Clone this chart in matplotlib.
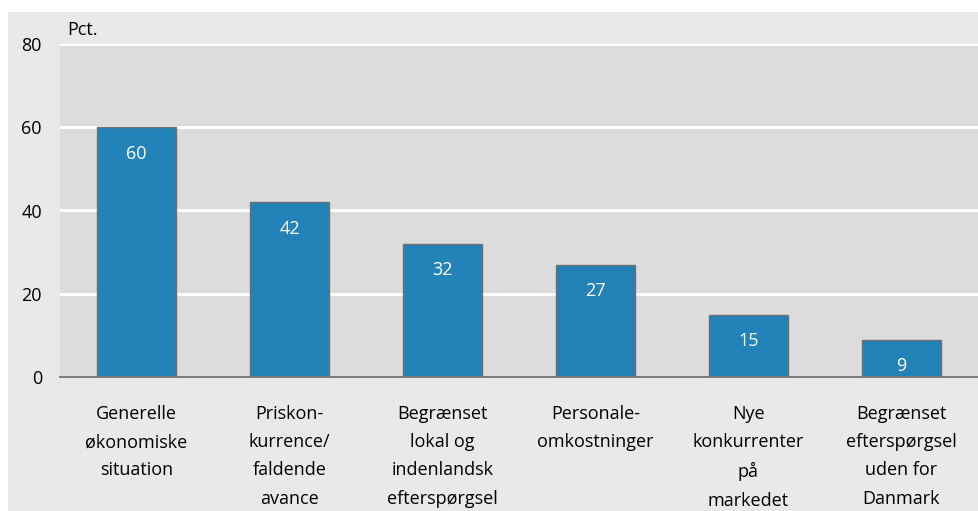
import matplotlib
matplotlib.use("Agg")
import matplotlib.pyplot as plt
from matplotlib.patches import Rectangle

plt.rcParams["font.family"] = ["Open Sans", "DejaVu Sans"]

categories = [
    "Generelle\nøkonomiske\nsituation",
    "Priskon-\nkurrence/\nfaldende\navance",
    "Begrænset\nlokal og\nindenlandsk\nefterspørgsel",
    "Personale-\nomkostninger",
    "Nye\nkonkurrenter\npå\nmarkedet",
    "Begrænset\nefterspørgsel\nuden for\nDanmark",
]
values = [60, 42, 32, 27, 15, 9]
yticks = [0, 20, 40, 60, 80]

W, H = 979, 511
fig = plt.figure(figsize=(W / 100, H / 100), dpi=100, facecolor="white")

# light grey panel behind the whole chart
fig.patches.append(Rectangle((8 / W, 0), (978 - 8) / W, (511 - 12) / H,
                             transform=fig.transFigure, facecolor="#e9e9e9",
                             edgecolor="none", zorder=-10))

ax = fig.add_axes([60 / W, (H - 377) / H, (978 - 60) / W, (377 - 44) / H])
ax.set_zorder(1)
ax.set_facecolor("#dcdcdc")

x = list(range(len(values)))
bars = ax.bar(x, values, width=0.51, color="#2383b8", edgecolor="#6f6f6f",
              linewidth=1.0, zorder=3)

for xi, v in zip(x, values):
    ax.annotate(f"{v}", (xi, v), xytext=(0, -19), textcoords="offset points",
                ha="center", va="center", color="white", fontsize=13, zorder=4)

ax.set_xlim(-0.5, len(values) - 0.5)
ax.set_ylim(0, 80)
ax.set_yticks(yticks)
ax.set_yticklabels([str(t) for t in yticks], fontsize=13)
ax.yaxis.grid(True, color="white", linewidth=2.2, zorder=1)
ax.set_axisbelow(True)
ax.tick_params(axis="y", length=0, pad=13)
ax.tick_params(axis="x", length=0, pad=20)
ax.set_xticks(x)
ax.set_xticklabels(categories, fontsize=13, linespacing=1.74, va="top")

for s in ["top", "right", "left"]:
    ax.spines[s].set_visible(False)
ax.spines["bottom"].set_color("#7a7a7a")
ax.spines["bottom"].set_linewidth(1.4)
ax.spines["bottom"].set_zorder(5)

ax.text(67 / W, (H - 30) / H, "Pct.", transform=fig.transFigure,
        ha="left", va="center", fontsize=13)

fig.savefig("out.png", dpi=100, facecolor="white")
